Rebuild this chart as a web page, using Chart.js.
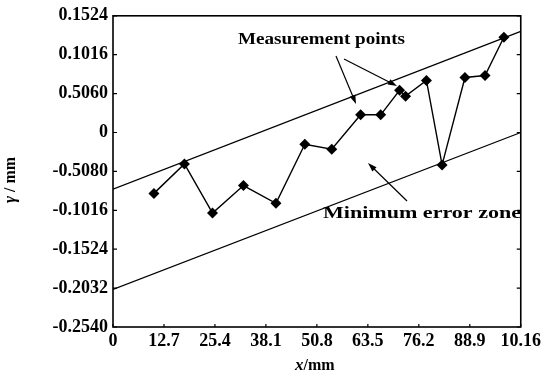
<!DOCTYPE html>
<html>
<head>
<meta charset="utf-8">
<script src="https://cdn.jsdelivr.net/npm/chart.js@4/dist/chart.umd.min.js"></script>
<style>
  body { margin: 0; background: #fff; }
  #wrap { width: 545px; height: 381px; position: relative; }
</style>
</head>
<body>
<div id="wrap"><canvas id="chart"></canvas></div>
<script>
// measured points (x in mm, gamma in mm)
const xPoints = [10.2, 17.8, 24.8, 32.5, 40.6, 47.8, 54.5, 61.7, 66.7, 71.4, 72.9, 78.1, 82.0, 87.7, 92.7, 97.4];
const yPoints = [-0.0795, -0.041, -0.1052, -0.0693, -0.0924, -0.0154, -0.0218, 0.0231, 0.0231, 0.0552, 0.0475, 0.068, -0.0423, 0.0718, 0.0744, 0.1244];

// the two parallel lines of the minimum error zone
const zoneX = [0, 101.6];
const upperZone = [-0.074, 0.132];
const lowerZone = [-0.205, 0];

const xTickValues = [0, 12.7, 25.4, 38.1, 50.8, 63.5, 76.2, 88.9, 101.6];
const xTickLabels = ['0', '12.7', '25.4', '38.1', '50.8', '63.5', '76.2', '88.9', '10.16'];
const yTickValues = [-0.254, -0.2032, -0.1524, -0.1016, -0.0508, 0, 0.0508, 0.1016, 0.1524];
const yTickLabels = ['-0.2540', '-0.2032', '-0.1524', '-0.1016', '-0.5080', '0', '0.5060', '0.1016', '0.1524'];

const SERIF = '"Liberation Serif", "DejaVu Serif", serif';

function toXY(xs, ys) {
    return xs.map((x, i) => ({ x, y: ys[i] }));
}

function drawArrow(ctx, x1, y1, x2, y2) {
    const ang = Math.atan2(y2 - y1, x2 - x1);
    const len = 9, half = 3;
    ctx.beginPath();
    ctx.moveTo(x1, y1);
    ctx.lineTo(x2 - Math.cos(ang) * len * 0.8, y2 - Math.sin(ang) * len * 0.8);
    ctx.stroke();
    ctx.beginPath();
    ctx.moveTo(x2, y2);
    ctx.lineTo(x2 - Math.cos(ang) * len - Math.sin(ang) * half, y2 - Math.sin(ang) * len + Math.cos(ang) * half);
    ctx.lineTo(x2 - Math.cos(ang) * len + Math.sin(ang) * half, y2 - Math.sin(ang) * len - Math.cos(ang) * half);
    ctx.closePath();
    ctx.fill();
}

// draws text starting at left, squeezed/stretched to a given width
function fitText(ctx, text, left, cy, width) {
    const w = ctx.measureText(text).width;
    ctx.save();
    ctx.translate(left, cy);
    ctx.scale(width / w, 1);
    ctx.fillText(text, 0, 0);
    ctx.restore();
}

// draws a sequence of [text, font] parts one after another
function drawParts(ctx, parts, x, y) {
    let cx = x;
    parts.forEach(([text, font]) => {
        ctx.font = font;
        ctx.fillText(text, cx, y);
        cx += ctx.measureText(text).width;
    });
}

function partsWidth(ctx, parts) {
    return parts.reduce((s, [text, font]) => { ctx.font = font; return s + ctx.measureText(text).width; }, 0);
}

const framePlugin = {
    id: 'frame',
    afterDatasetsDraw(chart) {
        const { ctx, chartArea: a, scales: { x, y } } = chart;
        ctx.save();
        ctx.strokeStyle = '#000';
        ctx.fillStyle = '#000';
        ctx.lineWidth = 1.6;
        ctx.strokeRect(a.left, a.top, a.right - a.left, a.bottom - a.top);

        // inward tick marks
        ctx.lineWidth = 1.2;
        ctx.beginPath();
        y.ticks.forEach(t => {
            const py = y.getPixelForValue(t.value);
            ctx.moveTo(a.left, py); ctx.lineTo(a.left + 4, py);
            ctx.moveTo(a.right, py); ctx.lineTo(a.right - 4, py);
        });
        x.ticks.forEach(t => {
            const px = x.getPixelForValue(t.value);
            ctx.moveTo(px, a.bottom); ctx.lineTo(px, a.bottom - 3);
        });
        ctx.stroke();

        // annotations
        ctx.textBaseline = 'middle';
        ctx.textAlign = 'left';
        ctx.font = 'bold 16px ' + SERIF;
        fitText(ctx, 'Measurement points', 238, 40, 167);
        fitText(ctx, 'Minimum error zone', 323, 214, 198);

        ctx.lineWidth = 1.2;
        drawArrow(ctx, 336, 56, 356, 104);
        drawArrow(ctx, 344, 59, 397, 86);
        drawArrow(ctx, 407, 201, 368, 163);

        // axis titles with italic variable names
        const xParts = [['x', 'italic bold 17px ' + SERIF], ['/mm', 'bold 16px ' + SERIF]];
        const xw = partsWidth(ctx, xParts);
        drawParts(ctx, xParts, (a.left + a.right) / 2 - xw / 2 - 2, 366);

        const yParts = [['\u03b3', 'italic bold 17px ' + SERIF], [' / mm', 'bold 16px ' + SERIF]];
        const yw = partsWidth(ctx, yParts);
        ctx.translate(11, 180);
        ctx.rotate(-Math.PI / 2);
        drawParts(ctx, yParts, -yw / 2, 0);
        ctx.restore();
    }
};

new Chart(document.getElementById('chart'), {
    type: 'scatter',
    data: {
        datasets: [
            {
                data: toXY(xPoints, yPoints),
                showLine: true,
                borderColor: '#000',
                backgroundColor: '#000',
                borderWidth: 1.4,
                pointStyle: 'rectRot',
                pointRadius: 5.5,
                pointBorderWidth: 0
            },
            {
                data: toXY(zoneX, upperZone),
                showLine: true,
                borderColor: '#000',
                borderWidth: 1.3,
                pointRadius: 0
            },
            {
                data: toXY(zoneX, lowerZone),
                showLine: true,
                borderColor: '#000',
                borderWidth: 1.3,
                pointRadius: 0
            }
        ]
    },
    options: {
        responsive: true,
        maintainAspectRatio: false,
        animation: false,
        layout: { padding: { top: 11, right: 22, left: 0, bottom: 0 } },
        plugins: { legend: { display: false }, tooltip: { enabled: false } },
        scales: {
            x: {
                type: 'linear',
                min: 0,
                max: 101.6,
                afterBuildTicks: scale => { scale.ticks = xTickValues.map(v => ({ value: v })); },
                afterFit: scale => { scale.height = 54; },
                grid: { display: false, drawTicks: false },
                border: { display: false },
                ticks: {
                    autoSkip: false,
                    maxRotation: 0,
                    padding: 4,
                    color: '#000',
                    font: { family: SERIF, size: 18, weight: 'bold' },
                    callback: (v, i) => xTickLabels[i]
                }
            },
            y: {
                type: 'linear',
                min: -0.254,
                max: 0.1524,
                afterBuildTicks: scale => { scale.ticks = yTickValues.map(v => ({ value: v })); },
                afterFit: scale => { scale.width = 113; },
                grid: { display: false, drawTicks: false },
                border: { display: false },
                ticks: {
                    autoSkip: false,
                    padding: 5,
                    color: '#000',
                    font: { family: SERIF, size: 18, weight: 'bold' },
                    callback: (v, i) => yTickLabels[i]
                }
            }
        }
    },
    plugins: [framePlugin]
});
</script>
</body>
</html>
